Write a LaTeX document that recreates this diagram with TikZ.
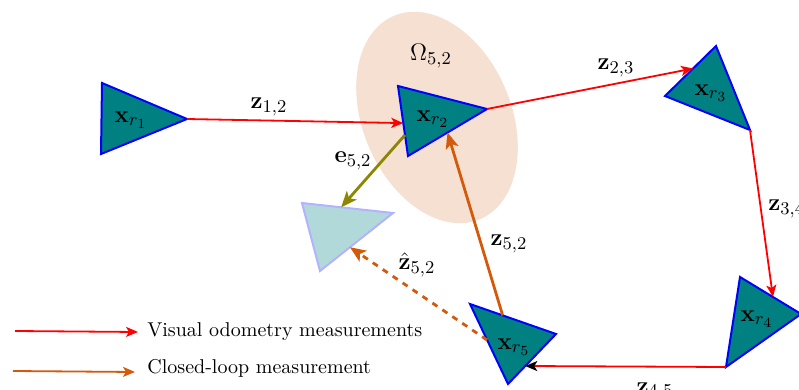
\documentclass[tikz,border=0pt]{standalone}
\usetikzlibrary{arrows.meta,calc}
\DeclareMathSizes{12}{12}{9}{7}
\definecolor{clcol}{RGB}{210,90,10}
\definecolor{ellcol}{RGB}{246,224,210}
\begin{document}
\begin{tikzpicture}[x=0.5pt,y=-0.5pt,
  robot/.style={draw=blue, fill=teal, line width=1pt, line join=miter},
  ghost/.style={draw=blue!30, fill=teal!30, line width=1pt},
  vo/.style={red, line width=0.9pt, -{Stealth[length=6pt,width=5pt,inset=1.5pt]}},
  lc/.style={clcol, line width=1.4pt, -{Stealth[length=8pt,width=6.5pt,inset=2pt]}},
  lbl/.style={inner sep=0pt, font=\large}]
\clip (0,0) rectangle (799,390);
\fill[ellcol] (437,117.5) ellipse [x radius=37.1pt, y radius=55.2pt, rotate=23];
% robots
\coordinate (r1a) at (102,83); \coordinate (r1b) at (187,119); \coordinate (r1c) at (101,154);
\coordinate (r2a) at (398,86); \coordinate (r2b) at (487,109); \coordinate (r2c) at (408,156);
\coordinate (r3a) at (716,46); \coordinate (r3b) at (665,96); \coordinate (r3c) at (750,130);
\coordinate (r4a) at (740,277); \coordinate (r4b) at (801,314); \coordinate (r4c) at (726,367);
\coordinate (r5a) at (470,304); \coordinate (r5b) at (556,334); \coordinate (r5c) at (508,384);
\coordinate (ga) at (393,213); \coordinate (gb) at (302,203); \coordinate (gc) at (320,271);
\draw[robot] (r1a) -- (r1b) -- (r1c) -- cycle;
\draw[robot] (r2a) -- (r2b) -- (r2c) -- cycle;
\draw[robot] (r3a) -- (r3b) -- (r3c) -- cycle;
\draw[robot] (r4a) -- (r4b) -- (r4c) -- cycle;
\draw[robot] (r5a) -- (r5b) -- (r5c) -- cycle;
\draw[ghost] (ga) -- (gb) -- (gc) -- cycle;
\node[lbl] (x1) at (131,120) {$\mathbf{x}_{r_1}$};
\node[lbl] (x2) at (433,119) {$\mathbf{x}_{r_2}$};
\node[lbl] (x3) at (711,93) {$\mathbf{x}_{r_3}$};
\node[lbl] (x4) at (757,319) {$\mathbf{x}_{r_4}$};
\node[lbl] (x5) at (514,347) {$\mathbf{x}_{r_5}$};
% odometry
\draw[vo] (r1b) -- ($(r2a)!0.53!(r2c)$);
\draw[vo] (r2b) -- ($(r3b)!0.55!(r3a)$);
\draw[vo] (r3c) -- ($(r4a)!0.54!(r4b)$);
\draw[red, line width=0.9pt, -{Stealth[length=6pt,width=5pt,inset=1.5pt,black]}] (r4c) -- ($(r5b)!0.64!(r5c)$);
% loop closure
\draw[lc] ($(r5a)!0.38!(r5b)$) -- ($(r2b)!0.5!(r2c)$);
\draw[lc, dashed] ($(r5a)!0.45!(r5c)$) -- ($(ga)!0.59!(gc)$);
\draw[olive, line width=1.4pt, -{Stealth[length=8pt,width=6.5pt,inset=2pt]}] ($(r2a)!0.7!(r2c)$) -- ($(gb)!0.43!(ga)$);
% labels
\node[lbl] (o52) at (431,56) {$\Omega_{5,2}$};
\node[lbl] (z12) at (269,107) {$\mathbf{z}_{1,2}$};
\node[lbl] (z23) at (616,68) {$\mathbf{z}_{2,3}$};
\node[lbl, anchor=west] (z34) at (768,209) {$\mathbf{z}_{3,4}$};
\node[lbl, anchor=north] (z45) at (655,382) {$\mathbf{z}_{4,5}$};
\node[lbl] (z52) at (509,244) {$\mathbf{z}_{5,2}$};
\node[lbl] (zh52) at (417,265) {$\hat{\mathbf{z}}_{5,2}$};
\node[lbl] (e52) at (353,161) {$\mathbf{e}_{5,2}$};
% legend
\coordinate (lg1a) at (15,331); \coordinate (lg1b) at (138,332);
\coordinate (lg2a) at (13,371); \coordinate (lg2b) at (135,372);
\draw[vo] (lg1a) -- (lg1b);
\draw[clcol, line width=0.9pt, -{Stealth[length=6pt,width=5pt,inset=1.5pt]}] (lg2a) -- (lg2b);
\node[inner sep=0pt, anchor=west] (t1) at (147,332) {Visual odometry measurements};
\node[inner sep=0pt, anchor=west] (t2) at (147,368) {Closed-loop measurement};
\end{tikzpicture}
\end{document}
